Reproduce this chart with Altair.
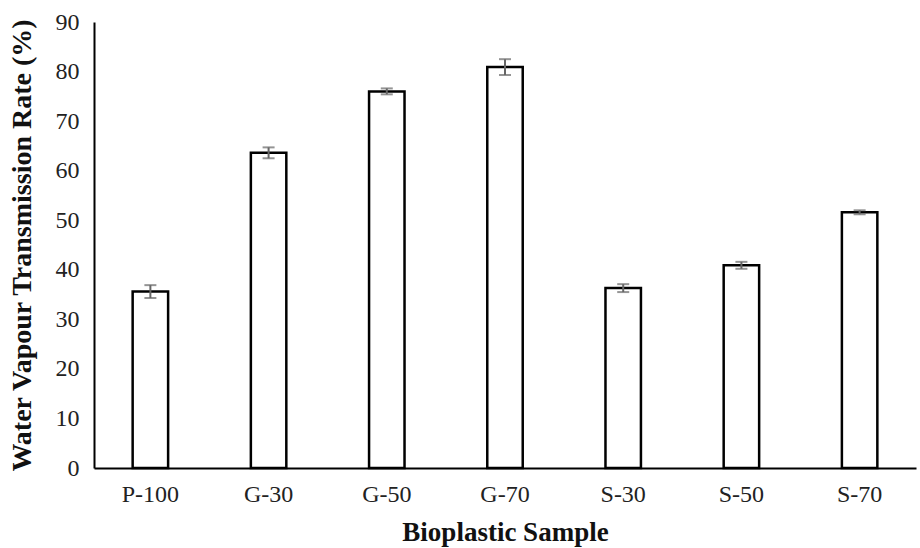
import altair as alt
import pandas as pd

samples = ["P-100", "G-30", "G-50", "G-70", "S-30", "S-50", "S-70"]
wvtr = [35.6, 63.6, 76.0, 80.9, 36.3, 40.9, 51.6]
err = [1.3, 1.1, 0.6, 1.6, 0.8, 0.7, 0.4]

df = pd.DataFrame({"sample": samples, "value": wvtr, "err": err})
df["lo"] = df["value"] - df["err"]
df["hi"] = df["value"] + df["err"]

font = "Liberation Serif"

x = alt.X("sample:N", sort=samples, title="Bioplastic Sample",
          scale=alt.Scale(paddingInner=0.70, paddingOuter=0.327),
          axis=alt.Axis(labelAngle=0, labelFont=font, labelFontSize=24, labelColor="#222",
                        titleFont=font, titleFontSize=27, titleFontWeight="bold", titleColor="#111",
                        ticks=False, domainColor="#000", domainWidth=2, labelPadding=14, titlePadding=13,
                        grid=False))
y = alt.Y("value:Q", title="Water Vapour Transmission Rate (%)",
          scale=alt.Scale(domain=[0, 90], nice=False),
          axis=alt.Axis(values=list(range(0, 91, 10)), labelFont=font, labelFontSize=24, labelColor="#222",
                        titleFont=font, titleFontSize=28, titleFontWeight="bold", titleColor="#111",
                        ticks=False, domainColor="#000", domainWidth=2, labelPadding=15, titlePadding=19,
                        grid=False))

bars = alt.Chart(df).mark_bar(fill="white", stroke="#000", strokeWidth=2.5).encode(x=x, y=y)

rule = alt.Chart(df).mark_rule(color="#666", strokeWidth=2).encode(
    x=alt.X("sample:N", sort=samples), y="lo:Q", y2="hi:Q")
cap_lo = alt.Chart(df).mark_tick(color="#666", thickness=2, size=12, orient="horizontal").encode(
    x=alt.X("sample:N", sort=samples), y="lo:Q")
cap_hi = alt.Chart(df).mark_tick(color="#666", thickness=2, size=12, orient="horizontal").encode(
    x=alt.X("sample:N", sort=samples), y="hi:Q")

chart = alt.layer(bars, rule, cap_lo, cap_hi).properties(
    width=822, height=446,
    autosize=alt.AutoSizeParams(type="none"),
    padding={"left": 94, "top": 22, "right": 4, "bottom": 80},
    background="white",
).configure_view(stroke=None)

chart.save("out.html", embed_options={"renderer": "svg", "actions": False})
